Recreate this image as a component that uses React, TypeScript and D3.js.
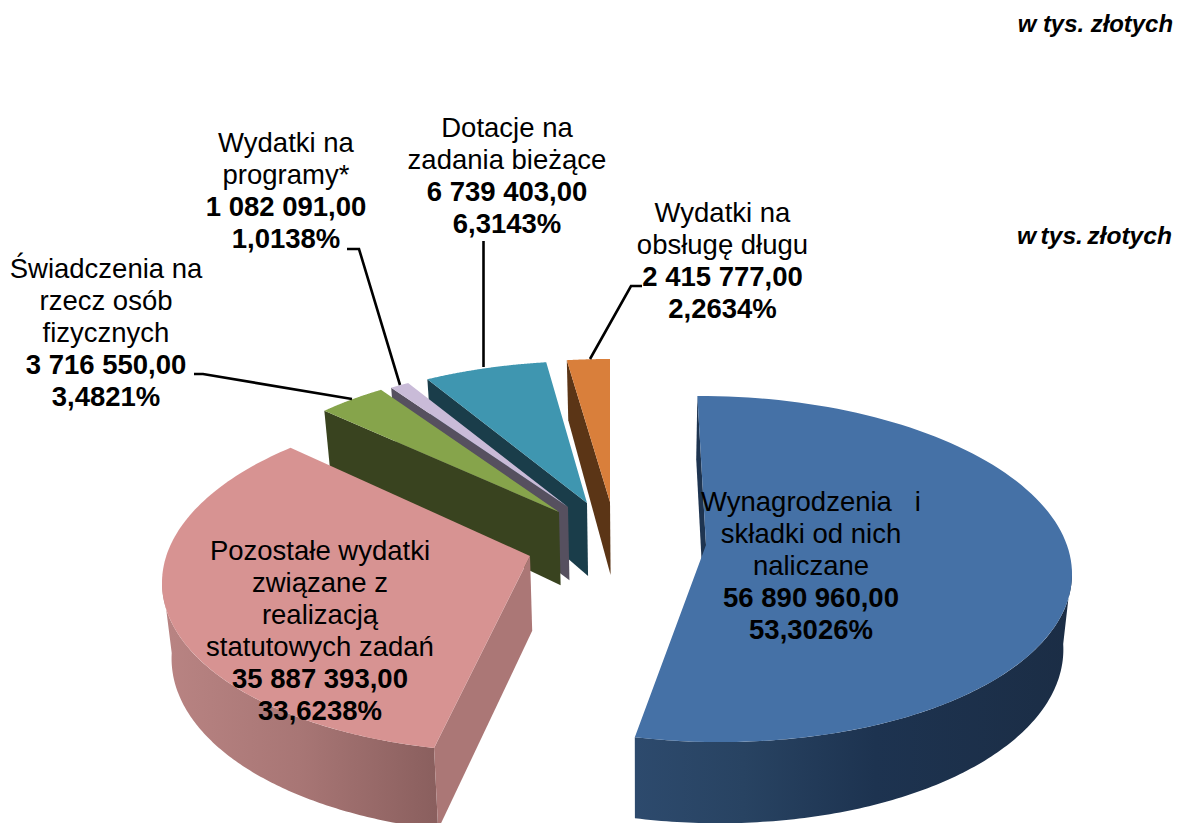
import React from "react";
import * as d3 from "d3";

const W = 1177;
const H = 823;

// ---- data (clockwise from 12 o'clock) ----
const names = [
  ["Wynagrodzenia   i", "składki od nich", "naliczane"],
  ["Pozostałe wydatki", "związane z", "realizacją", "statutowych zadań"],
  ["Świadczenia na", "rzecz osób", "fizycznych"],
  ["Wydatki na", "programy*"],
  ["Dotacje na", "zadania bieżące"],
  ["Wydatki na", "obsługę długu"],
];
const amounts = [56890960, 35887393, 3716550, 1082091, 6739403, 2415777];
const shares = [53.3026, 33.6238, 3.4821, 1.0138, 6.3143, 2.2634];

// ---- styles ----
const topColors = ["#4571A6", "#D79392", "#86A44B", "#C9BBD8", "#3F96B0", "#D97F3B"];
const faceColors = ["#1E3450", "#AB7776", "#39431F", "#56505F", "#1A3D4A", "#5B3516"];

// ---- layout: projected ellipse of every exploded slice ----
const geometry = [
  { ex: 710, ey: 569, rx: 362, ry: 173, tilt: 5, ax: 706, ay: 545, w0: -2, w1: 0.1 },
  { ex: 524, ey: 577.8, rx: 362, ry: 174.4, tilt: -5, ax: 530, ay: 556, w0: 2.5, w1: 6.9 },
  { ex: 570, ey: 514.5, rx: 340, ry: 150, tilt: 0, ax: 559, ay: 512, w0: 0.8, w1: 0.75 },
  { ex: 578, ey: 513, rx: 340, ry: 150, tilt: 0, ax: 568, ay: 507, w0: 1.2, w1: 0.9 },
  { ex: 590, ey: 511, rx: 340, ry: 150, tilt: 0, ax: 587, ay: 503, w0: 2.3, w1: 0.75 },
  { ex: 610, ey: 504, rx: 340, ry: 145, tilt: 0, ax: 610, ay: 502, w0: 0.85, w1: 0 },
];
const labelLayout = [
  { x: 811, y: 511 },
  { x: 320, y: 560 },
  { x: 106, y: 278 },
  { x: 286, y: 152 },
  { x: 507, y: 137 },
  { x: 722.5, y: 222 },
];
const leaders: ([number, number][] | null)[] = [
  null,
  null,
  [[194, 374], [203, 374], [352, 399]],
  [[347, 249], [359, 249], [400, 385]],
  [[483.5, 241], [483.5, 367]],
  [[642, 286], [631, 286], [590, 359]],
];
const drawOrder = [5, 4, 3, 2, 1, 0];

const locale = d3.formatLocale({ decimal: ",", thousands: " ", grouping: [3], currency: ["", ""] });
const fmtAmount = locale.format(",.2f");
const fmtShare = locale.format(".4f");

const depth = d3.scaleLinear().domain([360, 503, 737]).range([60, 73, 81]);
const VANISH_X = 640;
const VANISH_K = 0.02;
const pie = d3.pie<number>().sort(null).value((d) => d);
const line = d3.line<[number, number]>();
const FONT = "'Liberation Sans', Arial, sans-serif";
const LINE = 32;

type P = [number, number];

export default function App() {
  const arcs = pie(amounts);

  const build = (i: number) => {
    const g = geometry[i];
    const a = arcs[i];
    const warp = d3
      .scaleLinear()
      .domain([a.startAngle, a.endAngle])
      .range([a.startAngle + (g.w0 * Math.PI) / 180, a.endAngle + (g.w1 * Math.PI) / 180]);
    const at = (phi: number): P => [
      g.ex + g.rx * Math.sin(phi),
      g.ey - g.ry * Math.cos(phi) + g.tilt * Math.sin(phi),
    ];
    const down = (p: P): P => [p[0] + (VANISH_X - p[0]) * VANISH_K, p[1] + depth(p[1])];
    const phi0 = warp(a.startAngle);
    const phi1 = warp(a.endAngle);
    const sample = (from: number, to: number): P[] =>
      d3.range(0, 121).map((k) => at(from + ((to - from) * k) / 120));
    const apex: P = [g.ax, g.ay];
    const top = [apex, ...sample(phi0, phi1)];
    const startFace = [at(phi0), apex, down(apex), down(at(phi0))];
    // outer wall is seen only on the front half of the rim
    const wallFrom = Math.max(phi0, Math.PI / 2 - 0.03);
    const wallTo = Math.min(phi1, (3 * Math.PI) / 2 + 0.03);
    const rim = wallTo > wallFrom ? sample(wallFrom, wallTo) : [];
    const wall = rim.length ? [...rim, ...rim.map(down).reverse()] : null;
    return { top, startFace, wall };
  };

  return (
    <svg
      width={W}
      height={H}
      viewBox={`0 0 ${W} ${H}`}
      style={{ position: "fixed", left: 0, top: 0, background: "#fff" }}
    >
      <defs>
        <linearGradient id="wall0" gradientUnits="userSpaceOnUse" x1={634} x2={1072} y1={0} y2={0}>
          <stop offset="0" stopColor="#2D4A6D" />
          <stop offset="0.25" stopColor="#284362" />
          <stop offset="0.55" stopColor="#1D3350" />
          <stop offset="1" stopColor="#1B2D45" />
        </linearGradient>
        <linearGradient id="wall1" gradientUnits="userSpaceOnUse" x1={162} x2={436} y1={0} y2={0}>
          <stop offset="0" stopColor="#B98483" />
          <stop offset="0.5" stopColor="#A87675" />
          <stop offset="1" stopColor="#8A5F5E" />
        </linearGradient>
      </defs>

      {drawOrder.map((i) => {
        const s = build(i);
        return (
          <g key={i}>
            {s.wall && <path d={line(s.wall) + "Z"} fill={`url(#wall${i})`} />}
            <path d={line(s.startFace as P[]) + "Z"} fill={faceColors[i]} />
            <path d={line(s.top as P[]) + "Z"} fill={topColors[i]} />
          </g>
        );
      })}

      {leaders.map((pts, i) =>
        pts ? <path key={i} d={line(pts) as string} fill="none" stroke="#000" strokeWidth={2.6} /> : null
      )}

      {names.map((rows, i) => {
        const { x, y } = labelLayout[i];
        return (
          <text key={i} fontFamily={FONT} fontSize={27.5} textAnchor="middle" fill="#000">
            {rows.map((r, k) => (
              <tspan key={k} x={x} y={y + k * LINE} style={{ whiteSpace: "pre" }}>
                {r}
              </tspan>
            ))}
            <tspan x={x} y={y + rows.length * LINE} fontWeight="bold">
              {fmtAmount(amounts[i])}
            </tspan>
            <tspan x={x} y={y + (rows.length + 1) * LINE} fontWeight="bold">
              {fmtShare(shares[i]) + "%"}
            </tspan>
          </text>
        );
      })}

      <text x={1173} y={32} fontFamily={FONT} fontSize={23.9} fontWeight="bold" fontStyle="italic" textAnchor="end">
        w tys. złotych
      </text>
      <text x={1172} y={244} fontFamily={FONT} fontSize={24.6} fontWeight="bold" fontStyle="italic" textAnchor="end" wordSpacing={-2.5}>
        w tys. złotych
      </text>
    </svg>
  );
}
